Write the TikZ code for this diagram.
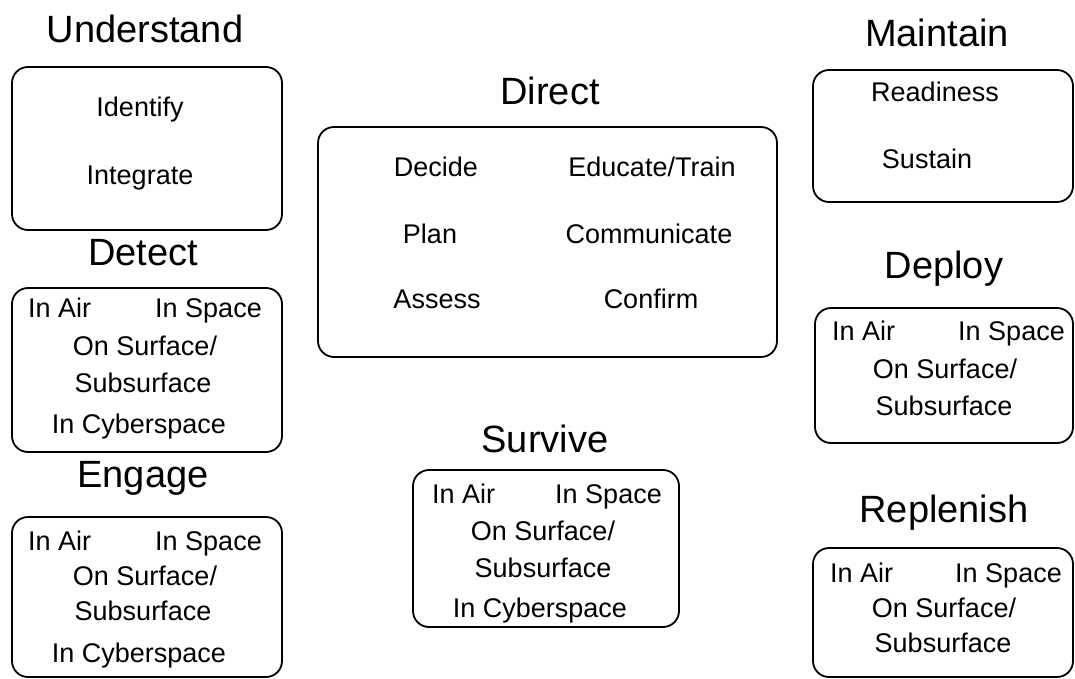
\documentclass[tikz,border=0pt]{standalone}
\usepackage{fontspec}
\setmainfont{Liberation Sans}
\begin{document}
\begin{tikzpicture}[x=1pt,y=-1pt,
  box/.style={draw, rounded corners=16pt, line width=1.8pt, inner sep=0pt},
  ttl/.style={font=\fontsize{38}{40}\selectfont, anchor=base, inner sep=0pt},
  itm/.style={font=\fontsize{27}{30}\selectfont, anchor=base, inner sep=0pt},
  itml/.style={itm, anchor=base west},
  itmr/.style={itm, anchor=base east}]
\useasboundingbox (0,0) rectangle (1075,679);
% boxes
\node[box, minimum width=270pt, minimum height=163pt] (ubox) at (147,148.5) {};
\node[box, minimum width=260pt, minimum height=132pt] (mbox) at (943,136) {};
\node[box, minimum width=270pt, minimum height=164pt] (detbox) at (147,370) {};
\node[box, minimum width=270pt, minimum height=160pt] (engbox) at (147,597) {};
\node[box, minimum width=459pt, minimum height=230pt] (dirbox) at (547.5,242) {};
\node[box, minimum width=266pt, minimum height=157pt] (survbox) at (546,548.5) {};
\node[box, minimum width=258pt, minimum height=135pt] (depbox) at (944,375.5) {};
\node[box, minimum width=260pt, minimum height=129pt] (repbox) at (943,612.5) {};
% titles
\node[ttl] (tund) at (145,43) {Understand};
\node[ttl] (tmain) at (937,47) {Maintain};
\node[ttl] (tdir) at (550,105) {Direct};
\node[ttl] (tdet) at (143,265) {Detect};
\node[ttl] (tdep) at (944,278) {Deploy};
\node[ttl] (tsurv) at (545,452) {Survive};
\node[ttl] (teng) at (143,487) {Engage};
\node[ttl] (trep) at (944,522) {Replenish};
% Understand
\node[itm] (u1) at (140,117) {Identify};
\node[itm] (u2) at (140,185) {Integrate};
% Maintain
\node[itm] (m1) at (935,102) {Readiness};
\node[itm] (m2) at (927,168) {Sustain};
% Direct
\node[itm] (d1) at (436,176) {Decide};
\node[itm] (d2) at (652,176) {Educate/Train};
\node[itm] (d3) at (430,243) {Plan};
\node[itm] (d4) at (649,243) {Communicate};
\node[itm] (d5) at (437,308) {Assess};
\node[itm] (d6) at (651,308) {Confirm};
% Detect
\node[itml] (de1) at (28,317) {In Air};
\node[itmr] (de2) at (262,317) {In Space};
\node[itm] (de3) at (145,355) {On Surface/};
\node[itm] (de4) at (143,392) {Subsurface};
\node[itm] (de5) at (139,433) {In Cyberspace};
% Engage
\node[itml] (e1) at (28,550) {In Air};
\node[itmr] (e2) at (262,550) {In Space};
\node[itm] (e3) at (145,585) {On Surface/};
\node[itm] (e4) at (143,620) {Subsurface};
\node[itm] (e5) at (139,662) {In Cyberspace};
% Survive
\node[itml] (s1) at (432,503) {In Air};
\node[itmr] (s2) at (662,503) {In Space};
\node[itm] (s3) at (543,540) {On Surface/};
\node[itm] (s4) at (543,577) {Subsurface};
\node[itm] (s5) at (540,617) {In Cyberspace};
% Deploy
\node[itml] (p1) at (832,340) {In Air};
\node[itmr] (p2) at (1065,340) {In Space};
\node[itm] (p3) at (945,378) {On Surface/};
\node[itm] (p4) at (944,415) {Subsurface};
% Replenish
\node[itml] (r1) at (830,582) {In Air};
\node[itmr] (r2) at (1062,582) {In Space};
\node[itm] (r3) at (944,617) {On Surface/};
\node[itm] (r4) at (943,652) {Subsurface};
\end{tikzpicture}
\end{document}
